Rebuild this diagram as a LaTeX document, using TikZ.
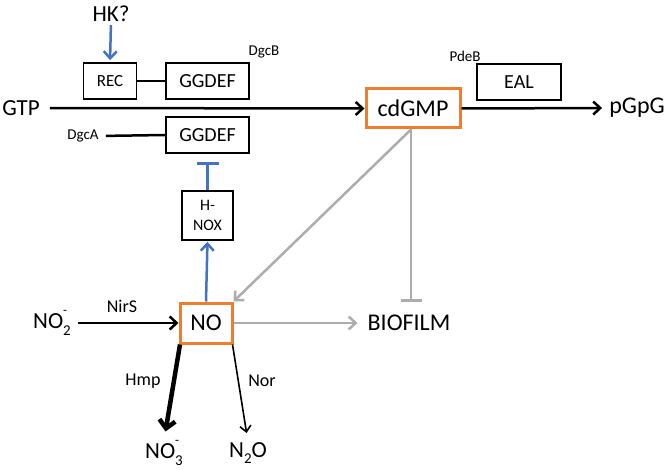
\documentclass[tikz,border=0pt]{standalone}
\usepackage{fontspec}
\setmainfont{Carlito}
\usetikzlibrary{arrows.meta}
\definecolor{orng}{HTML}{ED7D31}
\definecolor{blu}{HTML}{4472C4}
\definecolor{gry}{HTML}{ADADAD}
\newcommand{\fs}[1]{\fontsize{#1}{#1}\selectfont}
\newcommand{\chem}[3]{#1\rlap{\raisebox{0.6em}{\fontsize{13}{13}\selectfont #3}}\raisebox{-0.3em}{\fontsize{15}{15}\selectfont #2}}
\begin{document}
\begin{tikzpicture}[x=1pt,y=-1pt,
  box/.style={draw=black,line width=1.8pt,inner sep=0pt,align=center},
  obox/.style={draw=orng,line width=3pt,inner sep=0pt,align=center},
  big/.style={inner sep=0pt,font=\fs{23}},
  small/.style={inner sep=0pt,font=\fs{15}},
  mid/.style={inner sep=0pt,font=\fs{18}},
  arr/.style={-{Straight Barb[length=7pt,width=13pt,line width=2.5pt]},line width=2.5pt},
  blk/.style={draw=black,line width=2.5pt},
]
\useasboundingbox (0,0) rectangle (666,470);
% nodes
\node[big] (hk) at (111,14) {HK?};
\node[box,minimum width=53pt,minimum height=36pt,font=\fs{17}] (rec) at (110,81) {REC};
\node[box,minimum width=83pt,minimum height=36pt,font=\fs{20}] (gg1) at (207.5,81) {GGDEF};
\node[small] (dgcb) at (264,52) {DgcB};
\node[big] (gtp) at (21,108) {GTP};
\node[box,minimum width=83pt,minimum height=36pt,font=\fs{20}] (gg2) at (207.5,135) {GGDEF};
\node[small] (dgca) at (83,136) {DgcA};
\node[box,minimum width=51pt,minimum height=49pt,font=\fs{16},text depth=0pt] (hnox) at (207.5,215.5) {H-\\[4pt]NOX};
\node[obox,minimum width=52pt,minimum height=40pt,font=\fs{24}] (no) at (206,323) {NO};
\node[big] (no2) at (52,323) {\chem{NO}{2}{-}};
\node[mid] (nirs) at (122,306) {NirS};
\node[big] (no3) at (164,453) {\chem{NO}{3}{-}};
\node[big] (n2o) at (248,453) {N\raisebox{-0.3em}{\fs{15}2}O};
\node[mid] (hmp) at (143,381) {Hmp};
\node[mid] (nor) at (262,381) {Nor};
\node[big,font=\fs{24}] (bio) at (409,323) {BIOFILM};
\node[obox,minimum width=94pt,minimum height=39pt,font=\fs{24}] (cdg) at (413,108.5) {cdGMP};
\node[box,minimum width=84pt,minimum height=36pt,font=\fs{20}] (eal) at (519,82) {EAL};
\node[small] (pdeb) at (465,56) {PdeB};
\node[big,font=\fs{24}] (pgpg) at (637,108) {pGpG};
\coordinate (bfT) at (411,302);
% connectors
\draw[blk] (rec.east) -- (gg1.west);
\draw[blk,shorten <=7pt] (dgca.east) -- (gg2.west);
\draw[arr,shorten <=10pt] (gtp.east) -- (cdg.west);
\draw[arr,shorten >=7pt] (cdg.east) -- (pgpg.west);
\draw[arr,blu,shorten <=3pt,shorten >=2pt] (hk.south) -- (rec.north);
\draw[blu,line width=2.5pt,-{Bar[width=22pt,line width=3pt]},shorten >=8pt] (hnox.north) -- (gg2.south);
\draw[arr,blu,shorten >=1pt] (no.north) -- (hnox.south);
\draw[arr,shorten <=7pt] (no2.east) -- (no.west);
\draw[line width=4.5pt,-{Straight Barb[length=8pt,width=16pt,line width=4.5pt]},shorten >=9pt] ([xshift=1.5pt]no.south west) -- (no3.north);
\draw[line width=1.6pt,-{Straight Barb[length=6pt,width=11pt,line width=1.6pt]},shorten >=9pt] ([xshift=-1pt]no.south east) -- (n2o.north);
\draw[gry,arr,shorten >=10pt] (no.east) -- (bio.west);
\draw[gry,arr,shorten <=1pt] ([xshift=-2pt]cdg.south) -- (no.north east);
\draw[gry,line width=2.5pt,-{Bar[width=21pt,line width=3pt]}] ([xshift=-2pt]cdg.south) -- (bfT);
\end{tikzpicture}
\end{document}
